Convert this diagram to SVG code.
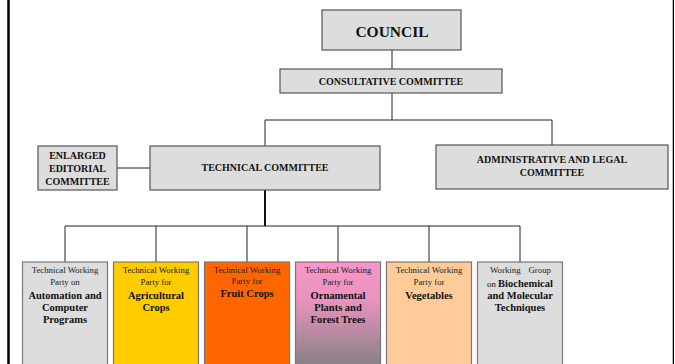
<svg xmlns="http://www.w3.org/2000/svg" width="675" height="364" viewBox="0 0 675 364">
<style>
.top{fill:#dddddd;stroke:#555;stroke-width:1.2}
.wp{stroke:#777;stroke-width:1.2}
.b{font-family:"Liberation Serif",serif;font-weight:bold;fill:#111;text-anchor:middle}
.r{font-family:"Liberation Serif",serif;font-size:8.8px;fill:#222;text-anchor:middle}
.bb{font-family:"Liberation Serif",serif;font-weight:bold;font-size:10.5px;fill:#111;text-anchor:middle}
.st{text-anchor:start}
.en{text-anchor:end}
.c{stroke:#222;stroke-width:1;fill:none}
</style>
<defs>
<linearGradient id="pg" x1="0" y1="0" x2="0" y2="1">
<stop offset="0" stop-color="#f996ca"/>
<stop offset="0.35" stop-color="#e893bd"/>
<stop offset="1" stop-color="#7f7f7f"/>
</linearGradient>
</defs>
<rect width="675" height="364" fill="#ffffff"/>
<line x1="8.5" y1="0" x2="8.5" y2="364" stroke="#000" stroke-width="2.5"/>
<line x1="672.5" y1="0" x2="672.5" y2="364" stroke="#bbb" stroke-width="1"/>
<line x1="673.5" y1="0" x2="673.5" y2="364" stroke="#000" stroke-width="1"/>
<g id="connectors">
<path class="c" d="M392 50V69M392 93V120M265 120H552M265 120V146M552 120V145M117 168H150"/>
<path d="M265 190V226" stroke="#111" stroke-width="2" fill="none"/>
<path class="c" d="M65 226H520M65 226V262M156 226V262M247 226V262M338 226V262M429 226V262M520 226V262"/>
</g>
<g id="council">
<rect class="top" x="322" y="10" width="139" height="40"/>
<text class="b" x="392" y="37" font-size="15.5">COUNCIL</text>
</g>
<g id="consultative">
<rect class="top" x="280" y="69" width="222" height="24"/>
<text class="b" x="391" y="85" font-size="10">CONSULTATIVE COMMITTEE</text>
</g>
<g id="editorial">
<rect class="top" x="38" y="146" width="79" height="44"/>
<text class="b" x="77.5" y="159" font-size="10">ENLARGED</text>
<text class="b" x="77.5" y="172" font-size="10">EDITORIAL</text>
<text class="b" x="77.5" y="185" font-size="10">COMMITTEE</text>
</g>
<g id="technical">
<rect class="top" x="150" y="146" width="230" height="44"/>
<text class="b" x="265" y="171" font-size="10">TECHNICAL COMMITTEE</text>
</g>
<g id="admin">
<rect class="top" x="436" y="145" width="232" height="44"/>
<text class="b" x="552" y="163" font-size="10">ADMINISTRATIVE AND LEGAL</text>
<text class="b" x="552" y="176" font-size="10">COMMITTEE</text>
</g>
<g id="twp-automation">
<rect class="wp" x="22.5" y="262" width="85" height="110" fill="#dddddd"/>
<text class="r" x="65" y="273">Technical Working</text>
<text class="r" x="65" y="285">Party on</text>
<text class="bb" x="65" y="299">Automation and</text>
<text class="bb" x="65" y="311">Computer</text>
<text class="bb" x="65" y="323">Programs</text>
</g>
<g id="twp-agricultural">
<rect class="wp" x="113.5" y="262" width="85" height="110" fill="#ffcc00"/>
<text class="r" x="156" y="273">Technical Working</text>
<text class="r" x="156" y="285">Party for</text>
<text class="bb" x="156" y="299">Agricultural</text>
<text class="bb" x="156" y="311">Crops</text>
</g>
<g id="twp-fruit">
<rect class="wp" x="204.5" y="262" width="85" height="110" fill="#ff6600"/>
<text class="r" x="247" y="273">Technical Working</text>
<text class="r" x="247" y="284">Party for</text>
<text class="bb" x="247" y="297">Fruit Crops</text>
</g>
<g id="twp-ornamental">
<rect class="wp" x="295.5" y="262" width="85" height="110" fill="url(#pg)"/>
<text class="r" x="338" y="273">Technical Working</text>
<text class="r" x="338" y="285">Party for</text>
<text class="bb" x="338" y="299">Ornamental</text>
<text class="bb" x="338" y="311">Plants and</text>
<text class="bb" x="338" y="323">Forest Trees</text>
</g>
<g id="twp-vegetables">
<rect class="wp" x="386.5" y="262" width="85" height="110" fill="#ffcc99"/>
<text class="r" x="429" y="273">Technical Working</text>
<text class="r" x="429" y="285">Party for</text>
<text class="bb" x="429" y="299">Vegetables</text>
</g>
<g id="wg-biochemical">
<rect class="wp" x="477.5" y="262" width="85" height="110" fill="#dddddd"/>
<text class="r st" x="490" y="273">Working</text>
<text class="r en" x="551" y="273">Group</text>
<text class="bb" x="520" y="287"><tspan style="font-weight:normal;font-size:8.8px">on </tspan>Biochemical</text>
<text class="bb" x="520" y="299">and Molecular</text>
<text class="bb" x="520" y="311">Techniques</text>
</g>
</svg>
